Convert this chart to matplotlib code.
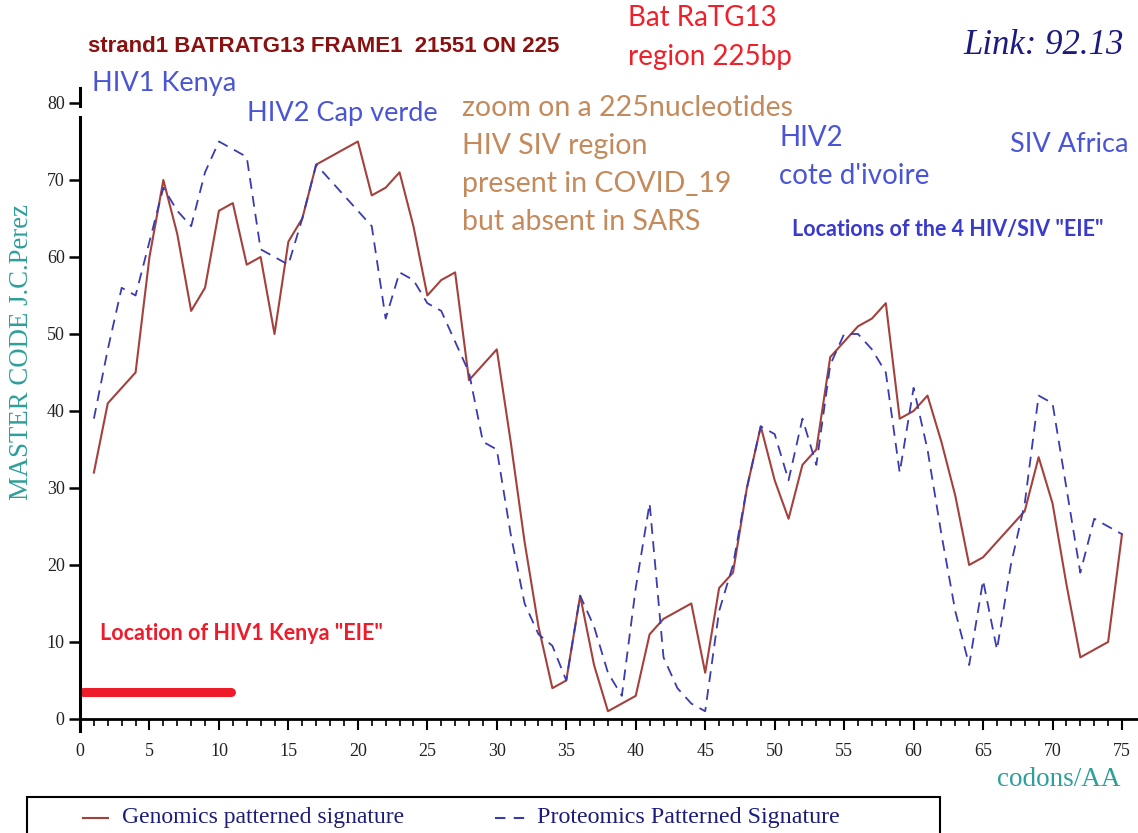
import matplotlib
matplotlib.use("Agg")
import matplotlib.pyplot as plt
from matplotlib.patches import Rectangle
from matplotlib.lines import Line2D

# codon / amino-acid position along the 225 bp region
codons = list(range(1, 76))

genomics = [32, 41, 43, 45, 60, 70, 63, 53, 56, 66, 67, 59, 60, 50, 62, 65, 72, 73, 74, 75,
            68, 69, 71, 64, 55, 57, 58, 44, 46, 48, 36, 23, 12, 4, 5, 16, 7, 1, 2, 3,
            11, 13, 14, 15, 6, 17, 19, 30, 38, 31, 26, 33, 35, 47, 49, 51, 52, 54, 39, 40,
            42, 36, 29, 20, 21, 23, 25, 27, 34, 28, 17.5, 8, 9, 10, 24]

proteomics = [39, 48, 56, 55, 62, 69, 66, 64, 71, 75, 74, 73, 61, 60, 59, 65, 72, 70, 68, 66,
              64, 52, 58, 57, 54, 53, 49, 45, 36, 35, 24, 15, 11, 9.5, 5, 16, 12, 6, 3, 17,
              28, 8, 4, 2, 1, 14, 20, 30, 38, 37, 31, 39, 33, 46, 50, 50, 48, 45, 32, 43,
              35, 24, 14, 7, 18, 9, 20, 28, 42, 41, 30, 19, 26, 25, 24]

# HIV1 Kenya "EIE" location (codons) drawn as a thick bar
kenya_eie = [0.2, 10.9]
kenya_eie_level = [3.5, 3.5]

legend_labels = ["Genomics patterned signature", "Proteomics Patterned Signature"]

W, H = 1138, 833
RED = "#a3413d"
BLUE = "#3b3bb0"
TEAL = "#2e9f9a"
LBLUE = "#4a55d6"
TAN = "#c48a5c"

fig = plt.figure(figsize=(W / 100, H / 100), dpi=100)
ax = fig.add_axes([80 / W, 1 - 730.5 / H, (1137 - 80) / W, (730.5 - 87.6) / H])


def ftxt(x, y, s, **kw):
    # place text using pixel coords of the reference picture
    fig.text(x / W, 1 - y / H, s, va="center", ha="left", **kw)


ax.plot(codons, genomics, color=RED, lw=1.5)
ax.plot(codons, proteomics, color=BLUE, lw=1.3, dashes=(6, 4))
ax.plot(kenya_eie, kenya_eie_level, color="#ee1c2b", lw=6.5, solid_capstyle="round")

ax.set_xlim(0, 76.08)
ax.set_ylim(-1.5, 82)
ax.spines["top"].set_visible(False)
ax.spines["right"].set_visible(False)
ax.spines["bottom"].set_position(("data", 0))
ax.spines["left"].set_linewidth(2.2)
ax.spines["bottom"].set_linewidth(2.0)

ax.set_xticks(range(0, 76, 5))
ax.set_xticks(range(0, 76), minor=True)
ax.set_yticks(range(0, 81, 10))
ax.tick_params(axis="x", which="major", direction="out", length=8, width=1.5, pad=9)
ax.tick_params(axis="x", which="minor", direction="out", length=5, width=1.2)
ax.tick_params(axis="y", direction="out", length=8, width=1.8, pad=3)
for lab in ax.get_xticklabels() + ax.get_yticklabels():
    lab.set_fontfamily("Liberation Serif")
    lab.set_fontsize(13)
    lab.set_color("#222222")

# small break in the y axis just under the top tick, as in the source plot
ax.plot([0, 0], [78.3, 79.4], color="white", lw=4, solid_capstyle="butt", clip_on=False, zorder=5)

fig.text(22 / W, 1 - 352 / H, "MASTER CODE J.C.Perez", rotation=90, ha="center", va="center",
         fontfamily="Liberation Serif", fontsize=19.3, color=TEAL)
ftxt(997, 780, "codons/AA", fontfamily="Liberation Serif", fontsize=19.5, color=TEAL)

# headers and annotations
ftxt(88, 46, "strand1 BATRATG13 FRAME1  21551 ON 225", fontfamily="Liberation Sans",
     fontweight="bold", fontsize=16, color="#8b1111")
ftxt(628, 18, "Bat RaTG13", fontfamily="Lato", fontsize=20, color="#f0202a")
ftxt(628, 57, "region 225bp", fontfamily="Lato", fontsize=20, color="#f0202a")
ftxt(963, 45, "Link: 92.13", fontfamily="Liberation Serif", style="italic", fontsize=25,
     color="#1a1a80")
ftxt(92, 83, "HIV1 Kenya", fontfamily="Lato", fontsize=19.5, color=LBLUE)
ftxt(247, 114, "HIV2 Cap verde", fontfamily="Lato", fontsize=19.5, color=LBLUE)
for i, line in enumerate(["zoom on a 225nucleotides", "HIV SIV region",
                          "present in COVID_19", "but absent in SARS"]):
    ftxt(462, 108 + 38 * i, line, fontfamily="Lato", fontsize=20.5, color=TAN)
ftxt(779, 138, "HIV2", fontfamily="Lato", fontsize=20, color=LBLUE)
ftxt(779, 176, "cote d'ivoire", fontfamily="Lato", fontsize=20, color=LBLUE)
ftxt(1010, 145, "SIV Africa", fontfamily="Lato", fontsize=19.5, color=LBLUE)
ftxt(792, 229, 'Locations of the 4 HIV/SIV "EIE"', fontfamily="Lato", fontweight="bold",
     fontsize=15.5, color="#3a3acc")
ftxt(100, 634, 'Location of HIV1 Kenya "EIE"', fontfamily="Lato", fontweight="bold",
     fontsize=15.5, color="#ee1c2b")

# legend box at the bottom, partly cut by the figure edge
fig.patches.append(Rectangle((27 / W, 1 - 845 / H), (940 - 27) / W, (845 - 797) / H,
                             transform=fig.transFigure, fill=False, edgecolor="black", lw=1.5))
fig.lines.append(Line2D([83 / W, 108 / W], [1 - 818 / H] * 2, transform=fig.transFigure,
                        color=RED, lw=1.5))
fig.lines.append(Line2D([495 / W, 525 / W], [1 - 818 / H] * 2, transform=fig.transFigure,
                        color=BLUE, lw=1.5, dashes=(5, 4)))
ftxt(122, 818, legend_labels[0], fontfamily="Liberation Serif", fontsize=17, color="#1c1c7a")
ftxt(537, 818, legend_labels[1], fontfamily="Liberation Serif", fontsize=17.3, color="#1c1c7a")

fig.savefig("out.png", dpi=100)
